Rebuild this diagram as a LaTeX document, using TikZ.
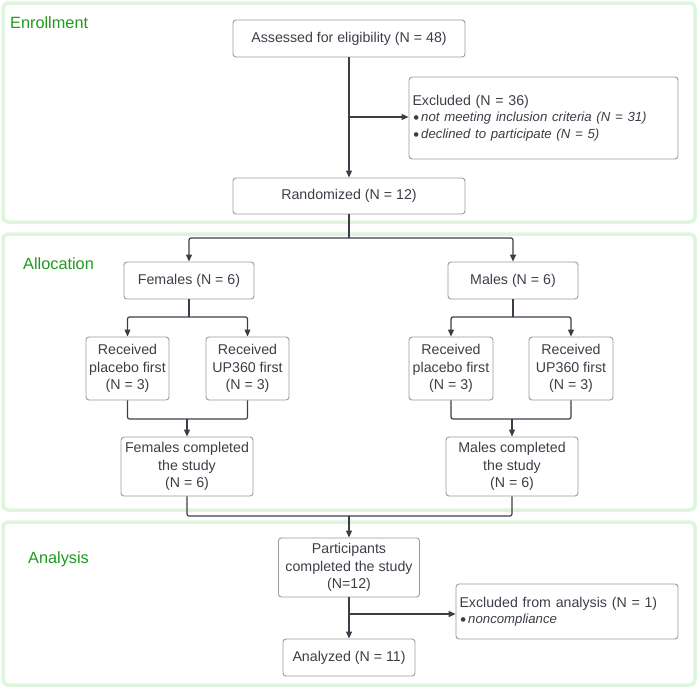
\documentclass[tikz,border=0pt]{standalone}
\usepackage{fontspec}
\setmainfont{Liberation Sans}
\newfontfamily\djv{DejaVu Sans}
\usetikzlibrary{arrows.meta}
\definecolor{txt}{HTML}{3A3F47}
\definecolor{bord}{HTML}{9A9A9A}
\definecolor{panel}{HTML}{DDF5DD}
\definecolor{lab}{HTML}{1E9A1E}
\newcommand{\bul}{\hspace{1pt}\raisebox{2pt}{\djv\fontsize{6}{6}\selectfont ●}\hspace{2.5pt}}
\begin{document}
\begin{tikzpicture}[x=1pt,y=-1pt,
 box/.style={draw=bord, line width=0.9pt, rounded corners=3pt, align=center, text=txt,
   font=\fontsize{14.2}{17.5}\selectfont, inner sep=2pt},
 panelbox/.style={draw=panel, line width=3.5pt, rounded corners=5pt},
 lbl/.style={text=lab, font=\fontsize{16.3}{19}\selectfont, anchor=west, inner sep=0pt},
 conn/.style={draw=txt, line width=1.2pt, rounded corners=2pt},
 arr/.style={conn, -{Triangle[length=7pt,width=6pt]}}]
\useasboundingbox (0,0) rectangle (700,688);
% panels
\draw[panelbox] (3,3) rectangle (695,222);
\draw[panelbox] (3,234) rectangle (695,510);
\draw[panelbox] (3,522) rectangle (695,685);
\node[lbl] (l1) at (10,23) {Enrollment};
\node[lbl] (l2) at (23,264) {Allocation};
\node[lbl] (l3) at (28,559) {Analysis};
% enrollment
\node[box, minimum width=232pt, minimum height=37pt] (ass) at (349,38.5) {Assessed for eligibility (N = 48)};
\node[box, minimum width=269pt, minimum height=82pt, text width=262pt, align=left, inner xsep=3.5pt] (exc) at (543.5,118)
 {Excluded (N = 36)\\[-1pt]
  {\fontsize{13.2}{16.5}\selectfont\bul\textit{not meeting inclusion criteria (N = 31)}}\\[-1pt]
  {\fontsize{13.2}{16.5}\selectfont\bul\textit{declined to participate (N = 5)}}};
\node[box, minimum width=232pt, minimum height=36pt] (rand) at (349,196) {Randomized (N = 12)};
% allocation
\node[box, minimum width=130pt, minimum height=37pt] (fem) at (189,280.5) {Females (N = 6)};
\node[box, minimum width=130pt, minimum height=37pt] (mal) at (513,280.5) {Males (N = 6)};
\node[box, minimum width=83pt, minimum height=63pt] (fp) at (127.5,368.5) {Received\\placebo first\\(N = 3)};
\node[box, minimum width=83pt, minimum height=63pt] (fu) at (247.5,368.5) {Received\\UP360 first\\(N = 3)};
\node[box, minimum width=84pt, minimum height=63pt] (mp) at (451,368.5) {Received\\placebo first\\(N = 3)};
\node[box, minimum width=84pt, minimum height=63pt] (mu) at (571,368.5) {Received\\UP360 first\\(N = 3)};
\node[box, minimum width=132pt, minimum height=59pt] (fc) at (187,466.5) {Females completed\\the study\\(N = 6)};
\node[box, minimum width=132pt, minimum height=59pt] (mc) at (512,466.5) {Males completed\\the study\\(N = 6)};
% analysis
\node[box, minimum width=141pt, minimum height=59pt] (par) at (349,567.5) {Participants\\completed the study\\(N=12)};
\node[box, minimum width=222pt, minimum height=55pt, text width=215pt, align=left, inner xsep=3.5pt] (exa) at (567,611.5)
 {Excluded from analysis (N = 1)\\[-1pt]
  {\fontsize{13.2}{16.5}\selectfont\bul\textit{noncompliance}}};
\node[box, minimum width=132pt, minimum height=37pt] (ana) at (349,657.5) {Analyzed (N = 11)};
% connectors
\coordinate (e1) at (349,117);
\draw[arr] (ass.south) -- (rand.north);
\draw[arr] (e1) -- (exc.west |- e1);
\coordinate (s1) at (349,238);
\draw[conn] (rand.south) -- (s1);
\draw[arr] (s1) -| (fem.north);
\draw[arr] (s1) -| (mal.north);
\coordinate (fs) at (189,317);
\draw[conn] (fem.south) -- (fs);
\draw[arr] (fs) -| (fp.north);
\draw[arr] (fs) -| (fu.north);
\coordinate (ms) at (513,317);
\draw[conn] (mal.south) -- (ms);
\draw[arr] (ms) -| (mp.north);
\draw[arr] (ms) -| (mu.north);
\coordinate (fj) at (187,419);
\draw[conn] (fp.south) |- (fj) -| (fu.south);
\draw[arr] (fj) -- (fc.north);
\coordinate (mj) at (512,419);
\draw[conn] (mp.south) |- (mj) -| (mu.south);
\draw[arr] (mj) -- (mc.north);
\coordinate (bm) at (349,516);
\draw[conn] (fc.south) |- (bm) -| (mc.south);
\draw[arr] (bm) -- (par.north);
\draw[arr] (par.south) -- (ana.north);
\coordinate (e2) at (349,614);
\draw[arr] (e2) -- (exa.west |- e2);
\end{tikzpicture}
\end{document}
